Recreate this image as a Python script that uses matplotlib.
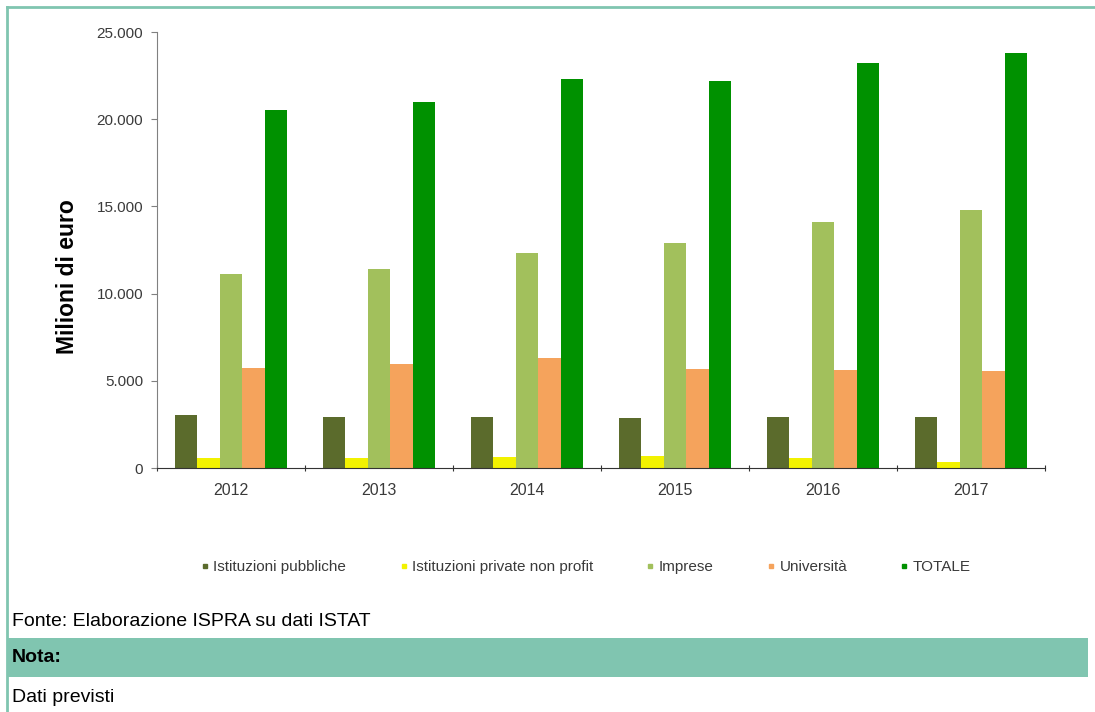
import matplotlib
matplotlib.use("Agg")
import matplotlib.pyplot as plt
from matplotlib.lines import Line2D
from matplotlib.patches import Rectangle
from matplotlib.ticker import FuncFormatter, FixedLocator
import numpy as np

plt.rcParams["font.family"] = ["Liberation Sans", "DejaVu Sans"]

anni = ["2012", "2013", "2014", "2015", "2016", "2017"]
pubbliche = [3050, 2900, 2900, 2880, 2900, 2900]
private_np = [570, 590, 650, 690, 555, 360]
imprese = [11100, 11400, 12300, 12900, 14100, 14800]
universita = [5750, 5950, 6300, 5650, 5600, 5550]
totale = [20500, 21000, 22300, 22200, 23200, 23800]

serie = [
    ("Istituzioni pubbliche", pubbliche, "#5b6b2c"),
    ("Istituzioni private non profit", private_np, "#f2f200"),
    ("Imprese", imprese, "#a2c05c"),
    ("Università", universita, "#f5a35c"),
    ("TOTALE", totale, "#009100"),
]

TEAL = "#80c5b0"
TXT = "#3a3a3a"

fig = plt.figure(figsize=(10.95, 7.12), dpi=100)
ax = fig.add_axes([157 / 1095, 1 - 468 / 712, 888 / 1095, 436 / 712])

x = np.arange(len(anni))
w = 0.152
for i, (nome, vals, col) in enumerate(serie):
    ax.bar(x + (i - 2) * w, vals, width=w, color=col, label=nome, zorder=2)

ax.set_xlim(-0.5, len(anni) - 0.5)
ax.set_ylim(0, 25000)
ax.set_yticks(np.arange(0, 25001, 5000))
ax.yaxis.set_major_formatter(FuncFormatter(lambda v, p: f"{int(v):,}".replace(",", ".")))
ax.tick_params(axis="y", labelsize=11, colors="#808080", labelcolor=TXT, length=4, pad=6)

# tacche tra i gruppi, etichette al centro
ax.xaxis.set_major_locator(FixedLocator(np.arange(-0.5, len(anni), 1.0)))
ax.xaxis.set_minor_locator(FixedLocator(x))
ax.set_xticklabels([])
ax.set_xticklabels(anni, minor=True)
ax.tick_params(axis="x", which="major", length=4, direction="inout", colors="#333333")
ax.tick_params(axis="x", which="minor", length=0, labelsize=11.5, labelcolor=TXT, pad=11)

for s in ("top", "right"):
    ax.spines[s].set_visible(False)
ax.spines["left"].set_color("#808080")
ax.spines["bottom"].set_color("#333333")

fig.text(68 / 1095, 1 - 277 / 712, "Milioni di euro", rotation=90, ha="center", va="center",
         fontsize=16.5, fontweight="bold", color="black")

handles = [Line2D([], [], marker="s", linestyle="none", markersize=3.5, color=c) for _, _, c in serie]
fig.legend(handles, [n for n, _, _ in serie], loc="center", bbox_to_anchor=(586 / 1095, 1 - 567 / 712),
           ncol=5, frameon=False, fontsize=11, handlelength=0.5, handletextpad=0.3,
           columnspacing=3.5, labelcolor=TXT)

# cornice e note
fig.add_artist(Line2D([7 / 1095, 7 / 1095], [0, 1 - 7 / 712], color=TEAL, lw=2))
fig.add_artist(Line2D([7 / 1095, 1], [1 - 7 / 712, 1 - 7 / 712], color=TEAL, lw=2))
fig.add_artist(Rectangle((7 / 1095, 1 - 677 / 712), (1088 - 7) / 1095, 39 / 712,
                         transform=fig.transFigure, color=TEAL, lw=0))

fig.text(12 / 1095, 1 - 622 / 712, "Fonte: Elaborazione ISPRA su dati ISTAT", fontsize=14,
         va="center", color="black")
fig.text(12 / 1095, 1 - 658 / 712, "Nota:", fontsize=14, fontweight="bold", va="center",
         color="black")
fig.text(12 / 1095, 1 - 697 / 712, "Dati previsti", fontsize=14, va="center", color="black")

fig.savefig("out.png", dpi=100)
